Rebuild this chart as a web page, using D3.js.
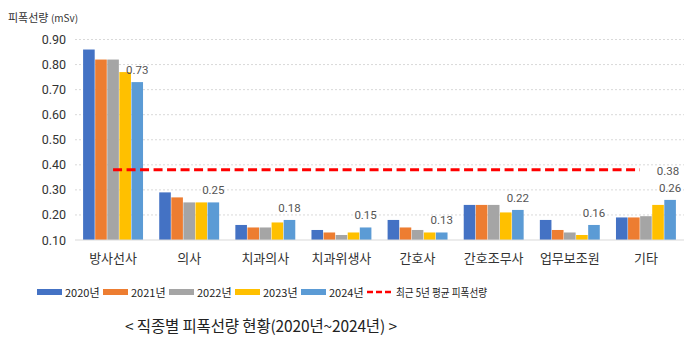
<!DOCTYPE html>
<html>
<head>
<meta charset="utf-8">
<script src="https://cdn.jsdelivr.net/npm/d3@7"></script>
<style>
  body { margin: 0; background: #fff; }
  svg { font-family: "Noto Sans CJK KR", "Noto Sans", sans-serif; }
</style>
</head>
<body>
<svg id="chart" width="700" height="353"></svg>
<script>
// data
const categories = ["방사선사", "의사", "치과의사", "치과위생사", "간호사", "간호조무사", "업무보조원", "기타"];
const years = ["2020년", "2021년", "2022년", "2023년", "2024년"];
const v2020 = [0.86, 0.29, 0.16, 0.14, 0.18, 0.24, 0.18, 0.19];
const v2021 = [0.82, 0.27, 0.15, 0.13, 0.15, 0.24, 0.14, 0.19];
const v2022 = [0.82, 0.25, 0.15, 0.12, 0.14, 0.24, 0.13, 0.195];
const v2023 = [0.77, 0.25, 0.17, 0.13, 0.13, 0.21, 0.12, 0.24];
const v2024 = [0.73, 0.25, 0.18, 0.15, 0.13, 0.22, 0.16, 0.26];
const avg5 = 0.38;
const yTicks = [0.10, 0.20, 0.30, 0.40, 0.50, 0.60, 0.70, 0.80, 0.90];
const colors = ["#4472C4", "#ED7D31", "#A5A5A5", "#FFC000", "#5B9BD5"];

const series = [v2020, v2021, v2022, v2023, v2024];
const svg = d3.select("#chart");

const x = d3.scaleBand().domain(categories).range([75, 684]).paddingInner(0.2).paddingOuter(0.1);
const xs = d3.scaleBand().domain(years).range([0, x.bandwidth()]).padding(0.04);
const y = d3.scaleLinear().domain([0.1, 0.9]).range([240, 39.5]);

// gridlines
svg.append("g").selectAll("line")
    .data(yTicks.slice(1))
    .join("line")
    .attr("x1", 75).attr("x2", 684)
    .attr("y1", d => y(d)).attr("y2", d => y(d))
    .attr("stroke", "#d9d9d9").attr("stroke-dasharray", "2,2");

// y axis labels
const yAxis = svg.append("g").attr("transform", "translate(66,0)")
    .call(d3.axisLeft(y).tickValues(yTicks).tickFormat(d3.format(".2f")).tickSize(0).tickPadding(0));
yAxis.select(".domain").remove();
yAxis.selectAll("text").attr("font-size", 12.5).attr("fill", "#333")
    .attr("font-family", "Roboto, 'Noto Sans', sans-serif");

// bars
const groups = svg.append("g").selectAll("g")
    .data(categories)
    .join("g")
    .attr("transform", d => `translate(${x(d)},0)`);

groups.selectAll("rect")
    .data((c, i) => series.map((s, k) => ({ year: years[k], v: s[i], k })))
    .join("rect")
    .attr("x", d => xs(d.year))
    .attr("width", xs.bandwidth())
    .attr("y", d => y(d.v))
    .attr("height", d => y(0.1) - y(d.v))
    .attr("fill", d => colors[d.k]);

// baseline
svg.append("line").attr("x1", 75).attr("x2", 684)
    .attr("y1", y(0.1)).attr("y2", y(0.1)).attr("stroke", "#d9d9d9");

// 2024 value labels
groups.append("text")
    .attr("x", xs("2024년") + xs.bandwidth() / 2)
    .attr("y", (c, i) => y(v2024[i]) - 8)
    .attr("text-anchor", "middle")
    .attr("font-size", 11.5)
    .attr("fill", "#555")
    .attr("font-family", "Roboto, 'Noto Sans', sans-serif")
    .text((c, i) => v2024[i].toFixed(2));

// 5-year average line
const xc = c => x(c) + x.bandwidth() / 2;
svg.append("line")
    .attr("x1", xc(categories[0])).attr("x2", xc(categories[categories.length - 1]) - 6)
    .attr("y1", y(avg5)).attr("y2", y(avg5))
    .attr("stroke", "#FF0000").attr("stroke-width", 3).attr("stroke-dasharray", "9,4.5");
svg.append("text")
    .attr("x", xc(categories[categories.length - 1]) + 22).attr("y", y(avg5) + 5)
    .attr("text-anchor", "middle").attr("font-size", 11.5).attr("fill", "#555")
    .attr("font-family", "Roboto, 'Noto Sans', sans-serif")
    .text(avg5.toFixed(2));

// category labels
svg.append("g").selectAll("text")
    .data(categories)
    .join("text")
    .attr("x", d => xc(d))
    .attr("y", 263)
    .attr("text-anchor", "middle")
    .attr("font-size", 13)
    .attr("fill", "#333")
    .text(d => d);

// y title
const yt = svg.append("text").attr("x", 8).attr("y", 22).attr("fill", "#333").attr("font-size", 11);
yt.append("tspan").text("피폭선량 ");
yt.append("tspan").attr("font-size", 10).text("(mSv)");

// legend
const legendX = [37, 103, 169, 235, 301];
const leg = svg.append("g");
years.forEach((yr, k) => {
    leg.append("rect").attr("x", legendX[k]).attr("y", 289).attr("width", 25).attr("height", 6).attr("fill", colors[k]);
    leg.append("text").attr("x", legendX[k] + 28).attr("y", 296.5)
        .attr("font-size", 11).attr("fill", "#222").text(yr);
});
leg.append("line").attr("x1", 367).attr("x2", 391).attr("y1", 292).attr("y2", 292)
    .attr("stroke", "#FF0000").attr("stroke-width", 2.5).attr("stroke-dasharray", "6,3");
leg.append("text").attr("x", 396).attr("y", 296.5).attr("font-size", 11.5).attr("fill", "#222")
    .attr("textLength", 91).attr("lengthAdjust", "spacingAndGlyphs")
    .text("최근 5년 평균 피폭선량");

// title
svg.append("text").attr("x", 261).attr("y", 332).attr("text-anchor", "middle")
    .attr("font-size", 15.5).attr("fill", "#222")
    .attr("textLength", 272).attr("lengthAdjust", "spacing")
    .text("<  직종별  피폭선량  현황(2020년~2024년)  >");
</script>
</body>
</html>
